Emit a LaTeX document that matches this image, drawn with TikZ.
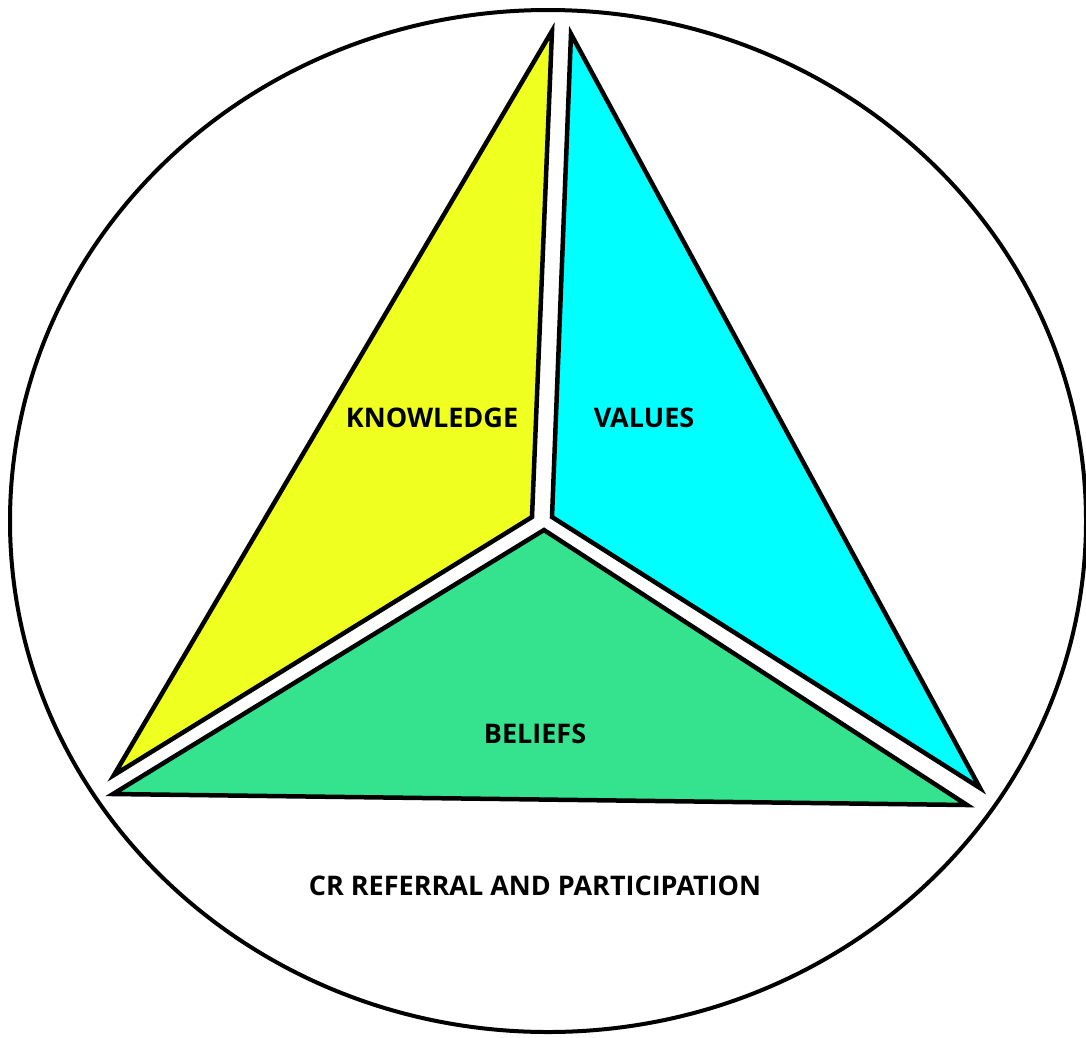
\documentclass[tikz,border=0pt]{standalone}
\usepackage{xcolor}
\usepackage{fontspec}
\setmainfont{Open Sans}
\usepackage{tikz}
\usetikzlibrary{positioning, calc}
\definecolor{crKnow}{HTML}{EFFF1F}
\definecolor{crVal}{HTML}{00FFFF}
\definecolor{crBel}{HTML}{35E38E}
\tikzset{
  crring/.style={draw=black, line width=4pt},
  crpart/.style={draw=black, line width=4.5pt, line join=miter},
  knowpart/.style={crpart, fill=crKnow},
  valpart/.style={crpart, fill=crVal},
  belpart/.style={crpart, fill=crBel},
  crlabel/.style={font=\fontsize{27}{32}\selectfont\bfseries, text=black, inner sep=0pt}
}

\begin{document}
\begin{tikzpicture}[x=1pt, y=-1pt]
  \useasboundingbox (0,0) rectangle (1086,1037);
  % outer ring
  \draw[crring] (548,521) ellipse [x radius=538, y radius=511];
  % knowledge
  \draw[knowpart] (552,31) -- (532,517) -- (114,775) -- cycle;
  % values
  \draw[valpart] (571,34) -- (980,788) -- (552,517) -- cycle;
  % beliefs
  \draw[belpart] (544,530) -- (967,805) -- (113,794) -- cycle;
  % labels
  \node[crlabel] (know) at (432,418) {KNOWLEDGE};
  \node[crlabel] (val) at (644,418) {VALUES};
  \node[crlabel] (bel) at (535,734) {BELIEFS};
  \node[crlabel] (ref) at (535,886) {CR REFERRAL AND PARTICIPATION};
\end{tikzpicture}
\end{document}
